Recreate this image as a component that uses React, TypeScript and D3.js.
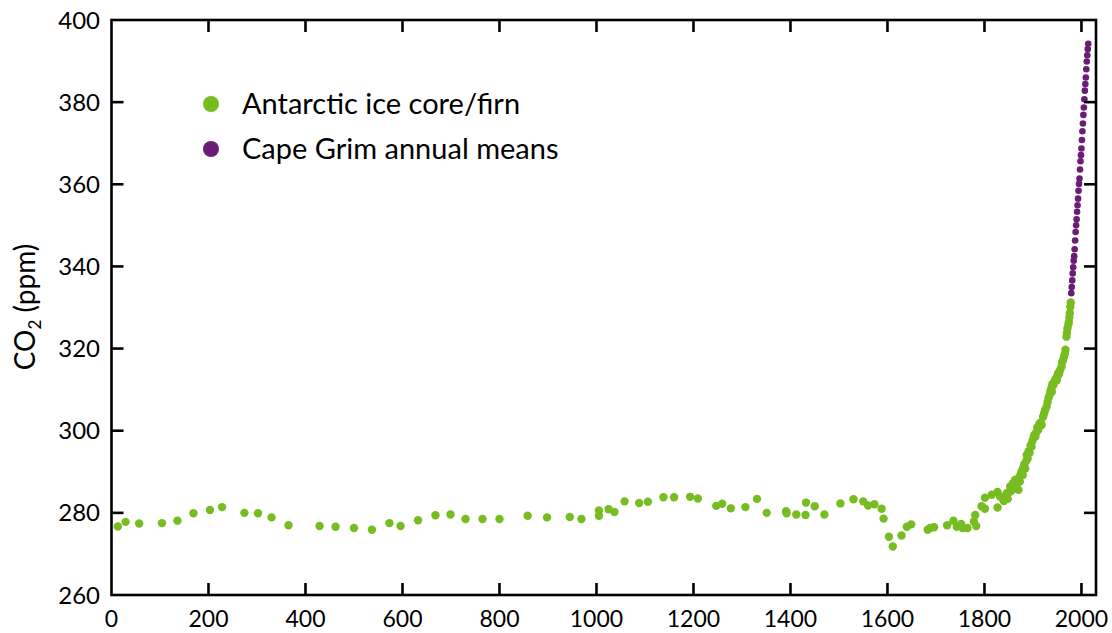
import React from "react";
import * as d3 from "d3";

const greenYears = [13,29,57,104,136,169,203,228,274,302,330,365,429,462,500,537,573,596,632,668,699,730,765,800,858,898,945,969,1005,1005,1025,1037,1058,1088,1106,1138,1160,1193,1209,1247,1259,1277,1307,1331,1351,1391,1392,1412,1431,1432,1450,1470,1503,1530,1550,1560,1573,1588,1592,1603,1611,1629,1640,1649,1683,1688,1696,1723,1736,1743,1752,1755,1765,1778,1781,1783,1794,1801,1801,1815,1827,1827,1832,1837,1840,1842,1846,1848,1850,1853,1855,1859,1861,1863,1866,1868,1870,1871,1873,1875,1877,1879,1880,1882,1884,1886,1887,1889,1891,1893,1895,1897,1899,1901,1903,1905,1907,1909,1911,1913,1916,1918,1921,1923,1925,1928,1930,1932,1934,1936,1938,1939,1940,1942,1944,1946,1949,1950,1952,1954,1956,1959,1960,1962,1964,1966,1967,1969,1970,1971,1973,1974,1975,1976,1977,1978];
const greenValues = [276.7,277.8,277.4,277.5,278.1,279.9,280.7,281.4,280.0,279.9,278.9,277.0,276.8,276.6,276.3,275.9,277.5,276.8,278.2,279.4,279.6,278.5,278.5,278.5,279.3,278.9,279.0,278.5,280.6,279.3,280.9,280.2,282.8,282.4,282.7,283.8,283.8,283.9,283.5,281.7,282.2,281.1,281.4,283.4,280.0,280.4,279.9,279.6,279.5,282.5,281.6,279.6,282.3,283.3,282.8,281.8,282.1,281.0,278.6,274.2,271.8,274.5,276.6,277.2,275.9,276.3,276.5,277.0,278.1,276.6,277.3,276.3,276.3,277.9,279.5,276.8,281.6,283.7,281.0,284.4,285.1,281.3,284.0,283.6,282.9,283.5,284.8,283.4,285.0,286.4,285.3,287.2,286.0,288.0,286.8,287.5,285.6,288.6,287.6,289.5,290.2,289.2,291.0,291.8,290.8,292.6,294.1,293.2,295.0,294.6,296.4,296.1,297.5,298.2,299.0,298.6,299.6,300.8,300.2,301.6,302.0,301.4,303.4,304.2,305.0,305.8,306.9,307.9,308.6,309.6,310.4,309.5,311.3,311.1,311.8,312.5,312.3,313.2,314.0,313.8,314.8,315.6,316.6,317.2,318.0,318.8,319.7,322.9,323.8,324.9,325.8,326.5,327.6,328.6,330.1,331.2];

const purpleYears = [1979,1980,1981,1982,1983,1984,1985,1986,1987,1988,1989,1990,1991,1992,1993,1994,1995,1996,1997,1998,1999,2000,2001,2002,2003,2004,2005,2006,2007,2008,2009,2010,2011,2012,2013,2014];
const purpleValues = [333.5,335.0,336.6,338.3,339.8,341.4,342.5,344.2,346.3,348.4,350.0,351.5,353.3,354.9,356.5,358.4,360.1,361.4,363.6,365.6,367.1,368.7,370.8,372.9,374.8,376.9,378.7,380.7,382.8,384.4,386.0,388.0,389.9,391.4,392.9,394.2];

const xTicks = [0, 200, 400, 600, 800, 1000, 1200, 1400, 1600, 1800, 2000];
const yTicks = [260, 280, 300, 320, 340, 360, 380, 400];
const legendLabels = ["Antarctic ice core/firn", "Cape Grim annual means"];

const GREEN = "#77bd22";
const PURPLE = "#6b1d76";
const FONT = "Lato, 'Open Sans', sans-serif";

export default function App() {
  const W = 1112, H = 633;
  const left = 111.5, right = 1096, top = 20, bottom = 595;
  const x = d3.scaleLinear().domain([0, 2030]).range([left, right]);
  const y = d3.scaleLinear().domain([260, 400]).range([bottom, top]);
  const tick = 12;
  const sw = 2.6;

  return (
    <svg width={W} height={H} style={{ position: "absolute", left: 0, top: 0, background: "#fff" }} fontFamily={FONT}>
      <rect x={0} y={0} width={W} height={H} fill="#fff" />
      {greenYears.map((yr, i) => (
        <circle key={"g" + i} cx={x(yr)} cy={y(greenValues[i])} r={4.2} fill={GREEN} />
      ))}
      {purpleYears.map((yr, i) => (
        <circle key={"p" + i} cx={x(yr)} cy={y(purpleValues[i])} r={3.3} fill={PURPLE} />
      ))}
      <rect x={left} y={top} width={right - left} height={bottom - top} fill="none" stroke="#000" strokeWidth={sw} />
      {xTicks.filter((t) => t > 0).map((t) => (
        <g key={"xt" + t}>
          <line x1={x(t)} x2={x(t)} y1={bottom} y2={bottom - tick} stroke="#000" strokeWidth={sw} />
          <line x1={x(t)} x2={x(t)} y1={top} y2={top + tick} stroke="#000" strokeWidth={sw} />
        </g>
      ))}
      {yTicks.filter((t) => t > 260 && t < 400).map((t) => (
        <g key={"yt" + t}>
          <line x1={left} x2={left + tick} y1={y(t)} y2={y(t)} stroke="#000" strokeWidth={sw} />
          <line x1={right} x2={right - tick} y1={y(t)} y2={y(t)} stroke="#000" strokeWidth={sw} />
        </g>
      ))}
      {xTicks.map((t) => (
        <text key={"xl" + t} x={x(t)} y={627} textAnchor="middle" fontSize={23} fill="#000">{t}</text>
      ))}
      {yTicks.map((t) => (
        <text key={"yl" + t} x={100} y={y(t)} dy="0.36em" textAnchor="end" fontSize={24} fill="#000">{t}</text>
      ))}
      <text transform="translate(35,307) rotate(-90)" textAnchor="middle" fontSize={28} fill="#000">
        CO<tspan fontSize={17} dy={6}>2</tspan><tspan dy={-6}> (ppm)</tspan>
      </text>
      {legendLabels.map((lab, i) => (
        <g key={"lg" + i}>
          <circle cx={211} cy={104 + i * 45} r={8} fill={i === 0 ? GREEN : PURPLE} />
          <text x={242} y={104 + i * 45} dy="0.36em" fontSize={29} fill="#000">{lab}</text>
        </g>
      ))}
    </svg>
  );
}
